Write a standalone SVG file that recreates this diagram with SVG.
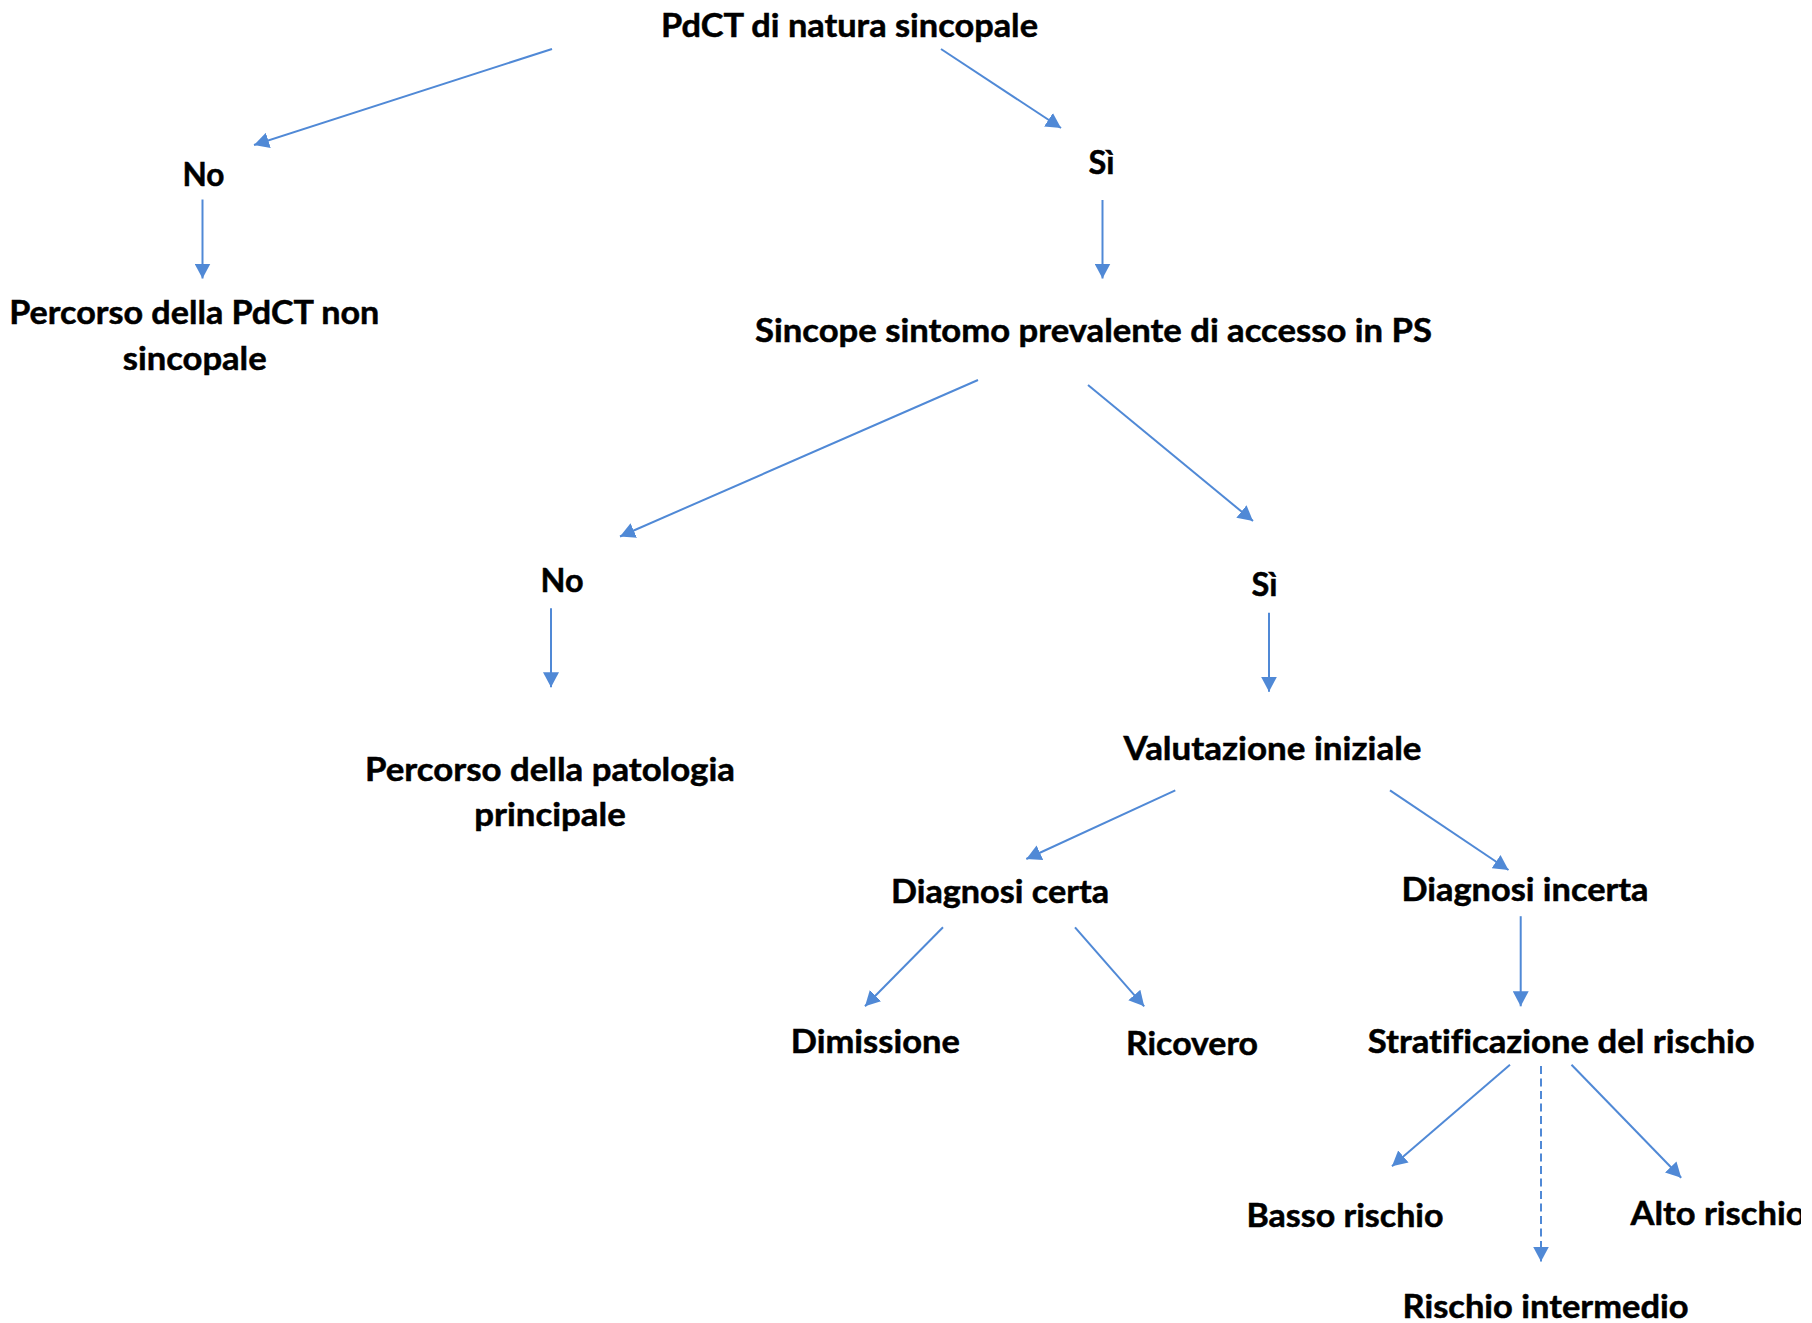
<svg xmlns="http://www.w3.org/2000/svg" width="1812" height="1323" viewBox="0 0 1812 1323">
  <style>
    .lbl { font-family: Lato, "Open Sans", "Liberation Sans", sans-serif; font-weight: 700; font-size: 33px; font-variant-ligatures: none; fill: #000; stroke: #000; stroke-width: 0.5; text-anchor: middle; }
    .lbl-start { text-anchor: start; }
    .conn { stroke: #5089D6; stroke-width: 2; fill: none; marker-end: url(#arrow); }
    .dashed { stroke-dasharray: 8 4.5; }
  </style>
  <defs>
    <marker id="arrow" markerUnits="userSpaceOnUse" markerWidth="16" markerHeight="16" refX="15" refY="8" orient="auto">
      <path d="M0,0 L15,8 L0,16 Z" fill="#5089D6"/>
    </marker>
    <clipPath id="clip-alto">
      <rect x="1600" y="1180" width="201" height="70"/>
    </clipPath>
  </defs>
  <rect width="1812" height="1323" fill="#fff"/>

  <!-- decision tree nodes -->
  <g id="node-pdct">
    <text class="lbl" x="849.5" y="37" textLength="377" lengthAdjust="spacingAndGlyphs">PdCT di natura sincopale</text>
  </g>
  <g id="node-no-1">
    <text class="lbl" x="203.5" y="186" textLength="42" lengthAdjust="spacingAndGlyphs">No</text>
  </g>
  <g id="node-si-1">
    <text class="lbl" x="1101.5" y="174" textLength="26" lengthAdjust="spacingAndGlyphs">Sì</text>
  </g>
  <g id="node-percorso-non-sincopale">
    <text class="lbl" x="194.3" y="323.5" textLength="370" lengthAdjust="spacingAndGlyphs">Percorso della PdCT non</text>
    <text class="lbl" x="194.7" y="369.5" textLength="144" lengthAdjust="spacingAndGlyphs">sincopale</text>
  </g>
  <g id="node-sincope-prevalente">
    <text class="lbl" x="1093.5" y="341.7" textLength="677" lengthAdjust="spacingAndGlyphs">Sincope sintomo prevalente di accesso in PS</text>
  </g>
  <g id="node-no-2">
    <text class="lbl" x="562" y="591.7" textLength="43" lengthAdjust="spacingAndGlyphs">No</text>
  </g>
  <g id="node-si-2">
    <text class="lbl" x="1264.5" y="595.5" textLength="26" lengthAdjust="spacingAndGlyphs">Sì</text>
  </g>
  <g id="node-percorso-patologia">
    <text class="lbl" x="550" y="780.5" textLength="370" lengthAdjust="spacingAndGlyphs">Percorso della patologia</text>
    <text class="lbl" x="550" y="825.5" textLength="151.5" lengthAdjust="spacingAndGlyphs">principale</text>
  </g>
  <g id="node-valutazione">
    <text class="lbl" x="1272.5" y="760" textLength="298" lengthAdjust="spacingAndGlyphs">Valutazione iniziale</text>
  </g>
  <g id="node-diagnosi-certa">
    <text class="lbl" x="1000" y="903" textLength="218" lengthAdjust="spacingAndGlyphs">Diagnosi certa</text>
  </g>
  <g id="node-diagnosi-incerta">
    <text class="lbl" x="1525" y="900.5" textLength="247" lengthAdjust="spacingAndGlyphs">Diagnosi incerta</text>
  </g>
  <g id="node-dimissione">
    <text class="lbl" x="875.3" y="1053" textLength="169" lengthAdjust="spacingAndGlyphs">Dimissione</text>
  </g>
  <g id="node-ricovero">
    <text class="lbl" x="1192" y="1055" textLength="132" lengthAdjust="spacingAndGlyphs">Ricovero</text>
  </g>
  <g id="node-stratificazione">
    <text class="lbl" x="1561.3" y="1053" textLength="387" lengthAdjust="spacingAndGlyphs">Stratificazione del rischio</text>
  </g>
  <g id="node-basso">
    <text class="lbl" x="1345" y="1227.3" textLength="197" lengthAdjust="spacingAndGlyphs">Basso rischio</text>
  </g>
  <g id="node-alto" clip-path="url(#clip-alto)">
    <text class="lbl lbl-start" x="1630.5" y="1225" textLength="175" lengthAdjust="spacingAndGlyphs">Alto rischio</text>
  </g>
  <g id="node-intermedio">
    <text class="lbl" x="1545.5" y="1318" textLength="286" lengthAdjust="spacingAndGlyphs">Rischio intermedio</text>
  </g>

  <!-- connectors -->
  <g id="connectors">
    <line class="conn" x1="552" y1="49" x2="254" y2="145"/>
    <line class="conn" x1="941" y1="49" x2="1061" y2="128"/>
    <line class="conn" x1="202.5" y1="199.5" x2="202.5" y2="278.5"/>
    <line class="conn" x1="1102.5" y1="200" x2="1102.5" y2="278.5"/>
    <line class="conn" x1="978" y1="380" x2="620" y2="536.5"/>
    <line class="conn" x1="1088" y1="385" x2="1253" y2="521"/>
    <line class="conn" x1="551" y1="608.3" x2="551" y2="687.3"/>
    <line class="conn" x1="1269" y1="612.7" x2="1269" y2="691.7"/>
    <line class="conn" x1="1175.3" y1="790.4" x2="1026.3" y2="859"/>
    <line class="conn" x1="1390" y1="790.4" x2="1508.5" y2="870"/>
    <line class="conn" x1="943" y1="927.3" x2="865" y2="1006.3"/>
    <line class="conn" x1="1075" y1="927.3" x2="1144.2" y2="1006.3"/>
    <line class="conn" x1="1520.7" y1="916.2" x2="1520.7" y2="1006.3"/>
    <line class="conn" x1="1510" y1="1064.8" x2="1392" y2="1166.3"/>
    <line class="conn dashed" x1="1541" y1="1066" x2="1541" y2="1261.6"/>
    <line class="conn" x1="1571.5" y1="1064.8" x2="1681.2" y2="1177.8"/>
  </g>
</svg>
